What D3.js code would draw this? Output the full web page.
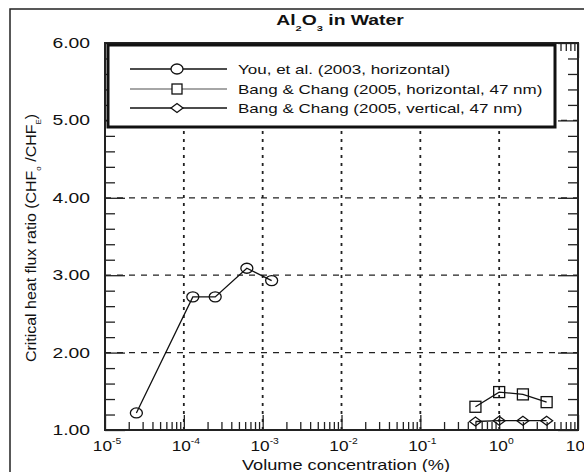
<!DOCTYPE html>
<html>
<head>
<meta charset="utf-8">
<script src="https://cdn.jsdelivr.net/npm/d3@7"></script>
<style>
  body { margin: 0; background: #fff; }
  svg text { font-family: "Liberation Sans", Arial, sans-serif; fill: #111; }
</style>
</head>
<body>
<div id="chart"></div>
<script>
// Data
const youX = [2.5e-5, 1.3e-4, 2.5e-4, 6.3e-4, 1.3e-3];
const youY = [1.22, 2.72, 2.72, 3.09, 2.93];
const bangX = [0.5, 1, 2, 4];
const bangHorY = [1.30, 1.49, 1.46, 1.36];
const bangVerY = [1.11, 1.12, 1.12, 1.12];
const yTicks = [1, 2, 3, 4, 5, 6];
const xDecades = [-5, -4, -3, -2, -1, 0, 1];
const legendLabels = [
  "You, et al. (2003, horizontal)",
  "Bang & Chang (2005, horizontal, 47 nm)",
  "Bang & Chang (2005, vertical, 47 nm)"
];

const W = 584, H = 472;
const svg = d3.select("#chart").append("svg")
  .attr("width", W).attr("height", H);

const x = d3.scaleLog().domain([1e-5, 10]).range([105, 578]);
const y = d3.scaleLinear().domain([1, 6]).range([430, 43]);

// the scanned figure has horizontally stretched lettering
function stext(parent, px, py, size, sx, anchor) {
  return parent.append("text")
    .attr("transform", `translate(${px},${py}) scale(${sx},1)`)
    .attr("text-anchor", anchor || "start")
    .attr("font-size", size);
}

// outer figure frame (only left and top visible)
svg.append("rect")
  .attr("x", 10).attr("y", 9).attr("width", 640).attr("height", 520)
  .attr("fill", "none").attr("stroke", "#222").attr("stroke-width", 1.5);

// title
const title = stext(svg, 340, 25, 14, 1.38, "middle").attr("font-weight", "bold");
title.append("tspan").text("Al");
title.append("tspan").attr("font-size", 8).attr("dy", 6).text("2");
title.append("tspan").attr("dy", -6).text("O");
title.append("tspan").attr("font-size", 8).attr("dy", 6).text("3");
title.append("tspan").attr("dy", -6).text(" in Water");

// grid lines
svg.append("g").selectAll("line")
  .data([2, 3, 4, 5]).enter().append("line")
  .attr("x1", x(1e-5)).attr("x2", x(10))
  .attr("y1", d => y(d)).attr("y2", d => y(d))
  .attr("stroke", "#222").attr("stroke-width", 1.3)
  .attr("stroke-dasharray", "6,6");

svg.append("g").selectAll("line")
  .data([-4, -3, -2, -1, 0]).enter().append("line")
  .attr("x1", d => x(Math.pow(10, d))).attr("x2", d => x(Math.pow(10, d)))
  .attr("y1", y(1)).attr("y2", y(6))
  .attr("stroke", "#222").attr("stroke-width", 1.8)
  .attr("stroke-dasharray", "3,5");

// y ticks (left and right, pointing inward)
const yMinor = d3.range(1, 6.001, 0.2).filter(v => Math.abs(v - Math.round(v)) > 1e-6);
function yAxes(gen, xPos) {
  svg.append("g").attr("transform", `translate(${xPos},0)`)
    .call(gen(y).tickValues(yTicks).tickSize(20).tickFormat(""));
  svg.append("g").attr("transform", `translate(${xPos},0)`)
    .call(gen(y).tickValues(yMinor).tickSize(10).tickFormat(""));
}
yAxes(d3.axisRight, x(1e-5));
yAxes(d3.axisLeft, x(10));

// x ticks (bottom and top, pointing inward)
const xMajor = xDecades.map(d => Math.pow(10, d));
const xMinor = [];
xDecades.slice(0, -1).forEach(d => {
  for (let k = 2; k <= 9; k++) xMinor.push(k * Math.pow(10, d));
});
function xAxes(gen, yPos) {
  svg.append("g").attr("transform", `translate(0,${yPos})`)
    .call(gen(x).tickValues(xMajor).tickSize(15).tickFormat(""));
  svg.append("g").attr("transform", `translate(0,${yPos})`)
    .call(gen(x).tickValues(xMinor).tickSize(8).tickFormat(""));
}
xAxes(d3.axisTop, y(1));
xAxes(d3.axisBottom, y(6));

svg.selectAll(".domain").remove();
svg.selectAll(".tick line").attr("stroke", "#222").attr("stroke-width", 1.3);

// plot frame
svg.append("rect")
  .attr("x", x(1e-5)).attr("y", y(6))
  .attr("width", x(10) - x(1e-5)).attr("height", y(1) - y(6))
  .attr("fill", "none").attr("stroke", "#222").attr("stroke-width", 2);

// y tick labels
yTicks.forEach(d => {
  stext(svg, 90, y(d) + 5, 14, 1.38, "end").text(d.toFixed(2));
});

// x tick labels
xDecades.forEach(d => {
  const t = stext(svg, x(Math.pow(10, d)) + 2, 451, 15, 1.15, "middle");
  t.append("tspan").text("10");
  t.append("tspan").attr("font-size", 9).attr("dy", -7).text(d === 0 ? "0" : "-" + Math.abs(d));
});

// axis titles
stext(svg, 346, 470, 14, 1.3, "middle").text("Volume concentration (%)");

const yl = svg.append("text")
  .attr("transform", "translate(36,238) rotate(-90) scale(1.14,1)")
  .attr("text-anchor", "middle").attr("font-size", 14);
yl.append("tspan").text("Critical heat flux ratio (CHF");
yl.append("tspan").attr("font-size", 7).attr("dy", 5).text("o");
yl.append("tspan").attr("dy", -5).text(" /CHF");
yl.append("tspan").attr("font-size", 7).attr("dy", 5).text("E");
yl.append("tspan").attr("dy", -5).text(")");

// series
const line = d3.line().x(d => x(d[0])).y(d => y(d[1]));
const youData = youX.map((v, i) => [v, youY[i]]);
const bangHData = bangX.map((v, i) => [v, bangHorY[i]]);
const bangVData = bangX.map((v, i) => [v, bangVerY[i]]);

function drawCircles(g, data) {
  g.selectAll("ellipse").data(data).enter().append("ellipse")
    .attr("cx", d => x(d[0])).attr("cy", d => y(d[1]))
    .attr("rx", 6).attr("ry", 5)
    .attr("fill", "none").attr("stroke", "#111").attr("stroke-width", 1.3);
}
function drawSquares(g, data) {
  g.selectAll("rect").data(data).enter().append("rect")
    .attr("x", d => x(d[0]) - 5.5).attr("y", d => y(d[1]) - 5.5)
    .attr("width", 11).attr("height", 11)
    .attr("fill", "none").attr("stroke", "#111").attr("stroke-width", 1.3);
}
const diamondPath = "M-6,0L0,-4.5L6,0L0,4.5Z";
function drawDiamonds(g, data) {
  g.selectAll("path.m").data(data).enter().append("path")
    .attr("class", "m")
    .attr("transform", d => `translate(${x(d[0])},${y(d[1])})`)
    .attr("d", diamondPath)
    .attr("fill", "none").attr("stroke", "#111").attr("stroke-width", 1.3);
}

[youData, bangHData, bangVData].forEach(data => {
  svg.append("path").datum(data)
    .attr("d", line)
    .attr("fill", "none").attr("stroke", "#111").attr("stroke-width", 1.3);
});
drawCircles(svg.append("g"), youData);
drawSquares(svg.append("g"), bangHData);
drawDiamonds(svg.append("g"), bangVData);

// legend
const lg = svg.append("g");
lg.append("rect")
  .attr("x", 108).attr("y", 45).attr("width", 447).attr("height", 82)
  .attr("fill", "#fff").attr("stroke", "#111").attr("stroke-width", 3);
const rows = [69, 89, 108];
const lineColors = ["#111", "#888", "#111"];
legendLabels.forEach((lab, i) => {
  const ry = rows[i];
  lg.append("line")
    .attr("x1", 130).attr("x2", 227).attr("y1", ry).attr("y2", ry)
    .attr("stroke", lineColors[i]).attr("stroke-width", 1.3);
  if (i === 0) {
    lg.append("ellipse").attr("cx", 177).attr("cy", ry).attr("rx", 6).attr("ry", 5)
      .attr("fill", "#fff").attr("stroke", "#111").attr("stroke-width", 1.3);
  } else if (i === 1) {
    lg.append("rect").attr("x", 172).attr("y", ry - 5).attr("width", 10).attr("height", 10)
      .attr("fill", "#fff").attr("stroke", "#111").attr("stroke-width", 1.3);
  } else {
    lg.append("path").attr("transform", `translate(177,${ry})`).attr("d", diamondPath)
      .attr("fill", "#fff").attr("stroke", "#111").attr("stroke-width", 1.3);
  }
  stext(lg, 238, ry + 5, 13, 1.31).text(lab);
});
</script>
</body>
</html>
